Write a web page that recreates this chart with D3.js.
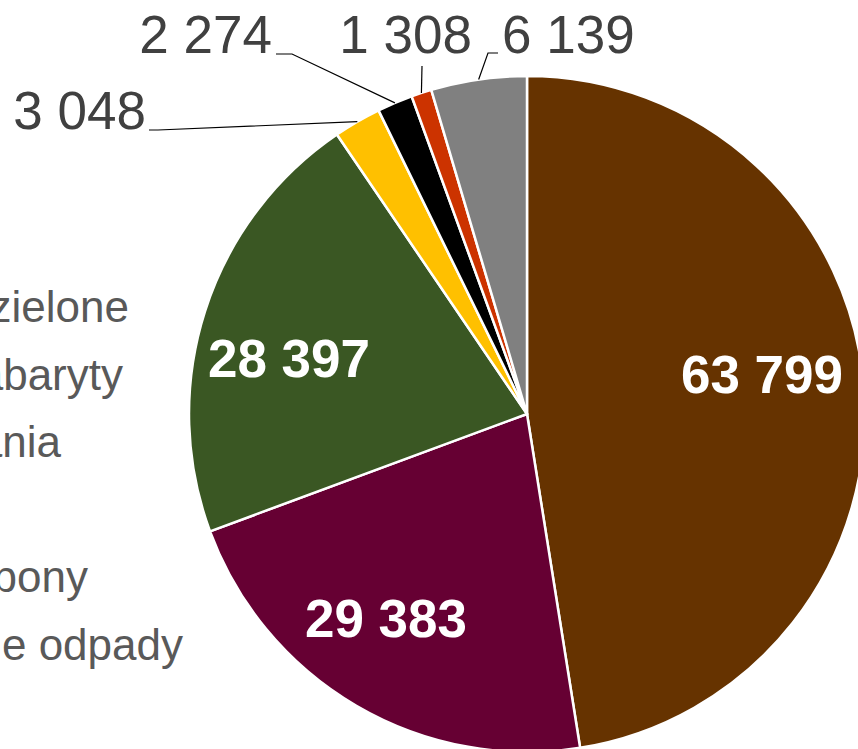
<!DOCTYPE html>
<html>
<head>
<meta charset="utf-8">
<script src="https://cdn.jsdelivr.net/npm/d3@7"></script>
<style>
  html, body { margin: 0; padding: 0; background: #ffffff; overflow: hidden; }
  svg { display: block; }
</style>
</head>
<body>
<svg id="chart" width="858" height="749"></svg>
<script>
// ---- data ----
const categories = ["Odpady zielone", "Wielkogabaryty", "Opakowania", "Szkło", "Zużyte opony", "Niebezpieczne odpady", "Inne"];
const values = [63799, 29383, 28397, 3048, 2274, 1308, 6139];
const valueLabels = ["63 799", "29 383", "28 397", "3 048", "2 274", "1 308", "6 139"];
const colors = ["#663300", "#660033", "#3A5723", "#FFC000", "#000000", "#CC3300", "#808080"];

// ---- layout ----
const W = 858, H = 749;
const cx = 527, cy = 414, R = 338;
// inside labels (index -> [x center, baseline])
const insideLabelPos = {0: [762, 393], 1: [386, 637], 2: [289, 377]};
// outside labels: text x, baseline, leader start points (leader ends on the arc at mid-angle)
const outsideLabels = {
  3: {x: 146, y: 129, anchor: "end",   leader: [[149, 130], [158, 130]]},
  4: {x: 272, y: 53,  anchor: "end",   leader: [[276, 54], [292, 54]]},
  5: {x: 472, y: 53,  anchor: "end",   leader: [[422, 66]]},
  6: {x: 502, y: 53,  anchor: "start", leader: [[498, 53], [488, 53]]}
};
// legend text right ends and baselines (legend is mostly cut by the left edge)
const legendEnds = [129, 123, 61, -20, 88, 183, -20];
const legendY0 = 322, legendStep = 67.6;

const svg = d3.select("#chart");
const g = svg.append("g").attr("transform", `translate(${cx},${cy})`);

const pie = d3.pie().sort(null).value(d => d)(values);
const arc = d3.arc().innerRadius(0).outerRadius(R);

g.selectAll("path.slice")
  .data(pie)
  .join("path")
  .attr("class", "slice")
  .attr("d", arc)
  .attr("fill", (d, i) => colors[i])
  .attr("stroke", "#ffffff")
  .attr("stroke-width", 2.5)
  .attr("stroke-linejoin", "round");

const font = "'Liberation Sans', Arial, Helvetica, sans-serif";

// inside labels
pie.forEach((d, i) => {
  if (insideLabelPos[i]) {
    const [x, y] = insideLabelPos[i];
    svg.append("text")
      .attr("x", x).attr("y", y)
      .attr("text-anchor", "middle")
      .attr("font-family", font)
      .attr("font-weight", "bold")
      .attr("font-size", 53)
      .attr("fill", "#ffffff")
      .text(valueLabels[i]);
  }
});

// outside labels with leader lines
pie.forEach((d, i) => {
  const o = outsideLabels[i];
  if (!o) return;
  const mid = (d.startAngle + d.endAngle) / 2;
  const ex = cx + R * Math.sin(mid);
  const ey = cy - R * Math.cos(mid);
  const pts = o.leader.concat([[ex, ey]]);
  svg.append("path")
    .attr("d", d3.line()(pts))
    .attr("fill", "none")
    .attr("stroke", "#000000")
    .attr("stroke-width", 1.2);
  svg.append("text")
    .attr("x", o.x).attr("y", o.y)
    .attr("text-anchor", o.anchor)
    .attr("font-family", font)
    .attr("font-size", 53)
    .attr("fill", "#404040")
    .text(valueLabels[i]);
});

// legend (cut at left edge, as in the reference)
categories.forEach((c, i) => {
  svg.append("text")
    .attr("x", legendEnds[i])
    .attr("y", legendY0 + i * legendStep)
    .attr("text-anchor", "end")
    .attr("font-family", font)
    .attr("font-size", 44)
    .attr("fill", "#595959")
    .text(c);
});
</script>
</body>
</html>
